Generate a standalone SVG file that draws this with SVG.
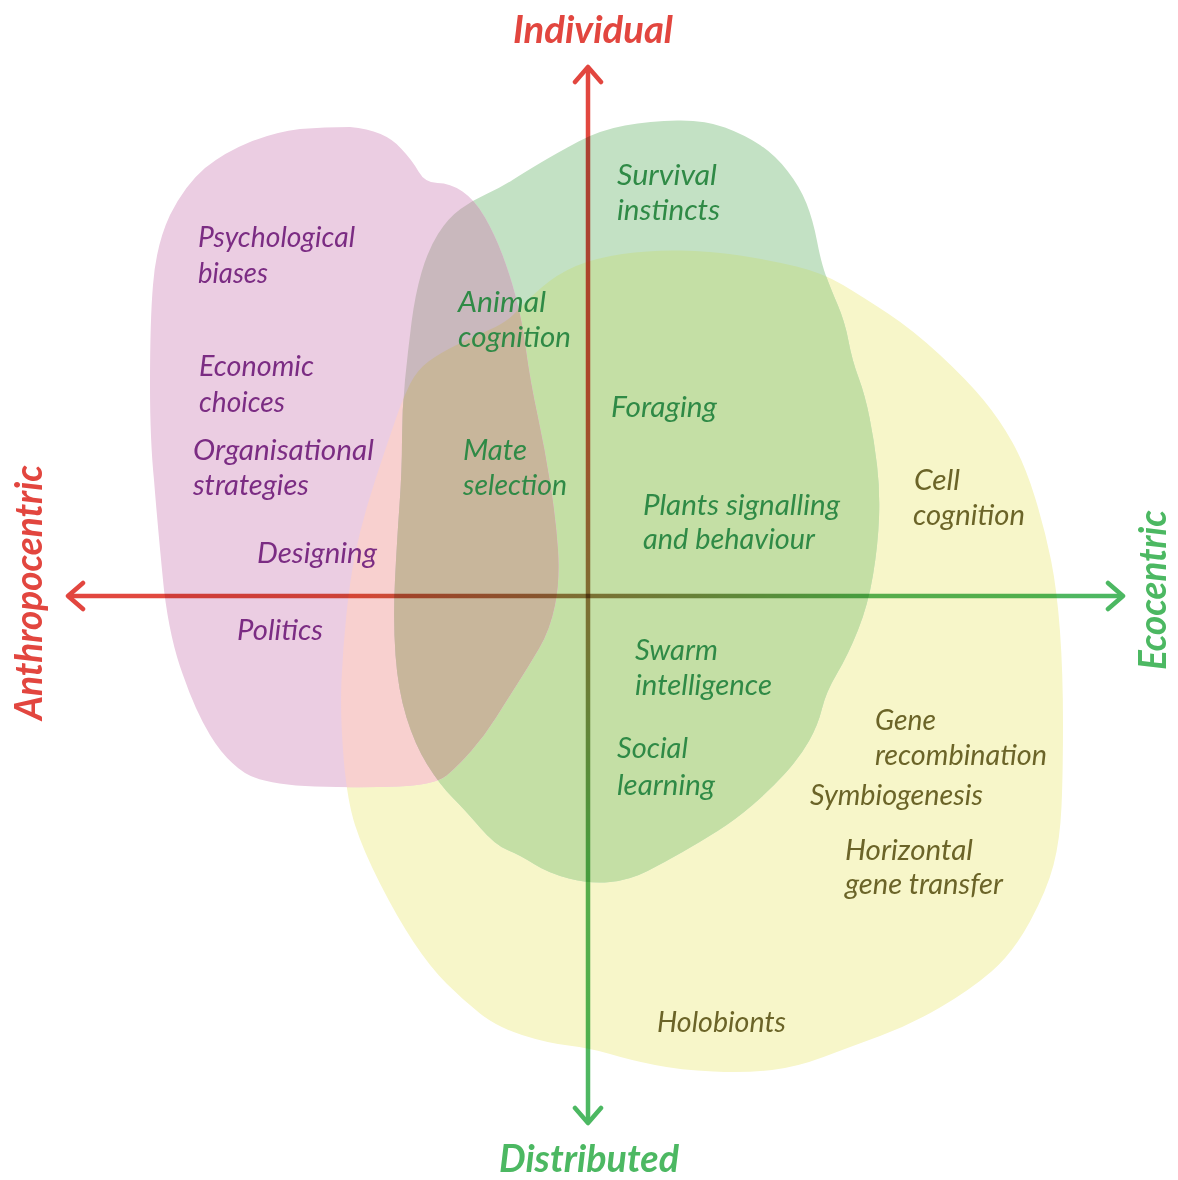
<svg xmlns="http://www.w3.org/2000/svg" xmlns:xlink="http://www.w3.org/1999/xlink" width="1178" height="1180" viewBox="0 0 1178 1180">
<style>
.lbl{font-family:Lato,"Open Sans","Liberation Sans",sans-serif;font-style:italic;font-size:28px}
.pu{fill:#7b2c83}
.gr{fill:#2f8a46}
.ol{fill:#6b6428}
.ttl{font-family:Lato,"Open Sans","Liberation Sans",sans-serif;font-style:italic;font-weight:bold;font-size:38px}
.axis{fill:none;stroke-width:4.5;mix-blend-mode:multiply}
</style>
<defs>
<path id="shapeY" d="M410,384 Q417,370 428.5,361.5 Q440,353 456.5,345 Q473,337 490,329.5 Q507,322 516,312 Q525,302 541,288 Q557,274 576,266 Q595,258 622.5,254 Q650,250 680,250.5 Q710,251 740,255.5 Q770,260 796.5,266.5 Q823,273 843,285 Q863,297 888,313.5 Q913,330 940,355 Q967,380 983.5,400 Q1000,420 1012.5,442.5 Q1025,465 1035,497.5 Q1045,530 1051,560 Q1057,590 1060,631.5 Q1063,673 1063,723 Q1063,773 1061.5,806.5 Q1060,840 1053.5,865 Q1047,890 1030,921.5 Q1013,953 991.5,971.5 Q970,990 940,1007.5 Q910,1025 880,1036 Q850,1047 823.5,1057 Q797,1067 772,1070 Q747,1073 713.5,1071.5 Q680,1070 655,1065 Q630,1060 610,1054 Q590,1048 568.5,1045.5 Q547,1043 522,1035 Q497,1027 480,1013.5 Q463,1000 446.5,983.5 Q430,967 413.5,942 Q397,917 380,883.5 Q363,850 355,825 Q347,800 343.5,756.5 Q340,713 341.5,680 Q343,647 346.5,613.5 Q350,580 355,555 Q360,530 367.5,505 Q375,480 383.5,455 Q392,430 397.5,414 Q403,398 410,384 Z"/>
<path id="shapeG" d="M460.5,209 Q473,200 486.5,194 Q500,188 512.5,180 Q525,172 541,162.5 Q557,153 578.5,141.5 Q600,130 625,125.5 Q650,121 677.5,120.5 Q705,120 725,127.5 Q745,135 760,145 Q775,155 787.5,171 Q800,187 806.5,203.5 Q813,220 817,241 Q821,262 825.5,274.5 Q830,287 837.5,304.5 Q845,322 848.5,341 Q852,360 858.5,377.5 Q865,395 869.5,417.5 Q874,440 877,465 Q880,490 879,517.5 Q878,545 873,575 Q868,605 858,630 Q848,655 837,673.5 Q826,692 822,708.5 Q818,725 809,741 Q800,757 785,773.5 Q770,790 752.5,805 Q735,820 717.5,831 Q700,842 682.5,852 Q665,862 647.5,871 Q630,880 610,882 Q590,884 569,878.5 Q548,873 534,864 Q520,855 507.5,850 Q495,845 480,827.5 Q465,810 452.5,797.5 Q440,785 427.5,765 Q415,745 406.5,717.5 Q398,690 395.5,655 Q393,620 395,580 Q397,540 399.5,505 Q402,470 402,440 Q402,410 405,380 Q408,350 411.5,322.5 Q415,295 421.5,272.5 Q428,250 438,234 Q448,218 460.5,209 Z"/>
<path id="shapeP" d="M150,385 Q150,320 153,285 Q156,245 170,215 Q185,185 205,168 Q225,152 250,142 Q275,132 300,129 Q325,127 350,127 Q385,130 401,148.5 Q412,160 418.5,171.5 Q425,183 437.5,183 Q450,183 462.5,191.5 Q475,200 485,217.5 Q495,235 502.5,255 Q510,275 516,297.5 Q522,320 526,350 Q530,380 537.5,415 Q545,450 550.5,485 Q556,520 558,550 Q560,580 555,605 Q550,630 539,648.5 Q528,667 517.5,683.5 Q507,700 496,717.5 Q485,735 471.5,750.5 Q458,766 446.5,775.5 Q435,785 397.5,786.5 Q360,788 315,786.5 Q265,785 245,773 Q225,760 210,735 Q195,710 183,675 Q170,640 164,590 Q158,530 154,480 Q150,440 150,385 Z"/>
<clipPath id="clipY"><use xlink:href="#shapeY"/></clipPath>
<clipPath id="clipG"><use xlink:href="#shapeG"/></clipPath>
<linearGradient id="gradV" gradientUnits="userSpaceOnUse" x1="0" y1="67" x2="0" y2="1123">
<stop offset="0" stop-color="#e2463f"/>
<stop offset="0.3" stop-color="#e0503f"/>
<stop offset="0.75" stop-color="#5cb35f"/>
<stop offset="1" stop-color="#4cb862"/>
</linearGradient>
<linearGradient id="gradH" gradientUnits="userSpaceOnUse" x1="68" y1="0" x2="1123" y2="0">
<stop offset="0" stop-color="#e2463f"/>
<stop offset="0.25" stop-color="#e0503f"/>
<stop offset="0.75" stop-color="#5cb35f"/>
<stop offset="1" stop-color="#4cb862"/>
</linearGradient>
<marker id="arrRed" markerUnits="userSpaceOnUse" markerWidth="40" markerHeight="40" viewBox="-20 -20 40 40" refX="0" refY="0" orient="auto-start-reverse">
<path d="M-15,-13 L0,0 L-15,13" fill="none" stroke="#e2463f" stroke-width="4.5" stroke-linecap="round" stroke-linejoin="round"/>
</marker>
<marker id="arrGreen" markerUnits="userSpaceOnUse" markerWidth="40" markerHeight="40" viewBox="-20 -20 40 40" refX="0" refY="0" orient="auto-start-reverse">
<path d="M-15,-13 L0,0 L-15,13" fill="none" stroke="#4cb862" stroke-width="4.5" stroke-linecap="round" stroke-linejoin="round"/>
</marker>
</defs>
<rect width="1178" height="1180" fill="#ffffff"/>

<g id="blobs">
<use id="blob-yellow" xlink:href="#shapeY" fill="#f7f6c9"/>
<use id="blob-green" xlink:href="#shapeG" fill="#c3e1c4"/>
<use xlink:href="#shapeG" fill="#c4dfa5" clip-path="url(#clipY)"/>
<use id="blob-pink" xlink:href="#shapeP" fill="#ebcde2"/>
<use xlink:href="#shapeP" fill="#f8d0cf" clip-path="url(#clipY)"/>
<use xlink:href="#shapeP" fill="#c9b8bd" clip-path="url(#clipG)"/>
<g clip-path="url(#clipY)"><use xlink:href="#shapeP" fill="#c8b69b" clip-path="url(#clipG)"/></g>
</g>

<g id="connectors">
<line class="axis" x1="588" y1="67" x2="588" y2="1123" stroke="url(#gradV)" marker-start="url(#arrRed)" marker-end="url(#arrGreen)"/>
<line class="axis" x1="68" y1="596" x2="1123" y2="596" stroke="url(#gradH)" marker-start="url(#arrRed)" marker-end="url(#arrGreen)"/>
</g>

<g id="axis-labels">
<text id="lbl-individual" class="ttl" x="513" y="43" fill="#e2463f" textLength="160" lengthAdjust="spacingAndGlyphs">Individual</text>
<text id="lbl-distributed" class="ttl" x="499" y="1172" fill="#4cb862" textLength="180" lengthAdjust="spacingAndGlyphs">Distributed</text>
<text id="lbl-anthropocentric" class="ttl" transform="translate(42,720) rotate(-90)" x="0" y="0" fill="#e2463f" textLength="255" lengthAdjust="spacingAndGlyphs">Anthropocentric</text>
<text id="lbl-ecocentric" class="ttl" transform="translate(1166,670) rotate(-90)" x="0" y="0" fill="#4cb862" textLength="160" lengthAdjust="spacingAndGlyphs">Ecocentric</text>
</g>

<g id="node-psychological-biases" class="lbl pu">
<text x="198" y="247" textLength="157" lengthAdjust="spacingAndGlyphs">Psychological</text>
<text x="198" y="283" textLength="70" lengthAdjust="spacingAndGlyphs">biases</text>
</g>
<g id="node-economic-choices" class="lbl pu">
<text x="199" y="376" textLength="115" lengthAdjust="spacingAndGlyphs">Economic</text>
<text x="199" y="412" textLength="86" lengthAdjust="spacingAndGlyphs">choices</text>
</g>
<g id="node-organisational-strategies" class="lbl pu">
<text x="193" y="460" textLength="181" lengthAdjust="spacingAndGlyphs">Organisational</text>
<text x="193" y="495" textLength="116" lengthAdjust="spacingAndGlyphs">strategies</text>
</g>
<g id="node-designing" class="lbl pu">
<text x="257" y="563" textLength="120" lengthAdjust="spacingAndGlyphs">Designing</text>
</g>
<g id="node-politics" class="lbl pu">
<text x="237" y="640" textLength="86" lengthAdjust="spacingAndGlyphs">Politics</text>
</g>

<g id="node-animal-cognition" class="lbl gr">
<text x="458" y="312" textLength="88" lengthAdjust="spacingAndGlyphs">Animal</text>
<text x="458" y="347" textLength="113" lengthAdjust="spacingAndGlyphs">cognition</text>
</g>
<g id="node-survival-instincts" class="lbl gr">
<text x="617" y="185" textLength="100" lengthAdjust="spacingAndGlyphs">Survival</text>
<text x="617" y="220" textLength="103" lengthAdjust="spacingAndGlyphs">instincts</text>
</g>
<g id="node-foraging" class="lbl gr">
<text x="611" y="417" textLength="106" lengthAdjust="spacingAndGlyphs">Foraging</text>
</g>
<g id="node-mate-selection" class="lbl gr">
<text x="463" y="460" textLength="64" lengthAdjust="spacingAndGlyphs">Mate</text>
<text x="463" y="495" textLength="104" lengthAdjust="spacingAndGlyphs">selection</text>
</g>
<g id="node-plants-signalling" class="lbl gr">
<text x="643" y="515" textLength="197" lengthAdjust="spacingAndGlyphs">Plants signalling</text>
<text x="643" y="549" textLength="172" lengthAdjust="spacingAndGlyphs">and behaviour</text>
</g>
<g id="node-swarm-intelligence" class="lbl gr">
<text x="635" y="660" textLength="83" lengthAdjust="spacingAndGlyphs">Swarm</text>
<text x="635" y="695" textLength="137" lengthAdjust="spacingAndGlyphs">intelligence</text>
</g>
<g id="node-social-learning" class="lbl gr">
<text x="617" y="758" textLength="71" lengthAdjust="spacingAndGlyphs">Social</text>
<text x="617" y="795" textLength="98" lengthAdjust="spacingAndGlyphs">learning</text>
</g>

<g id="node-cell-cognition" class="lbl ol">
<text x="914" y="490" textLength="46" lengthAdjust="spacingAndGlyphs">Cell</text>
<text x="913" y="525" textLength="112" lengthAdjust="spacingAndGlyphs">cognition</text>
</g>
<g id="node-gene-recombination" class="lbl ol">
<text x="875" y="730" textLength="61" lengthAdjust="spacingAndGlyphs">Gene</text>
<text x="875" y="765" textLength="172" lengthAdjust="spacingAndGlyphs">recombination</text>
</g>
<g id="node-symbiogenesis" class="lbl ol">
<text x="810" y="805" textLength="173" lengthAdjust="spacingAndGlyphs">Symbiogenesis</text>
</g>
<g id="node-horizontal-gene-transfer" class="lbl ol">
<text x="845" y="860" textLength="128" lengthAdjust="spacingAndGlyphs">Horizontal</text>
<text x="845" y="894" textLength="158" lengthAdjust="spacingAndGlyphs">gene transfer</text>
</g>
<g id="node-holobionts" class="lbl ol">
<text x="657" y="1032" textLength="129" lengthAdjust="spacingAndGlyphs">Holobionts</text>
</g>
</svg>
